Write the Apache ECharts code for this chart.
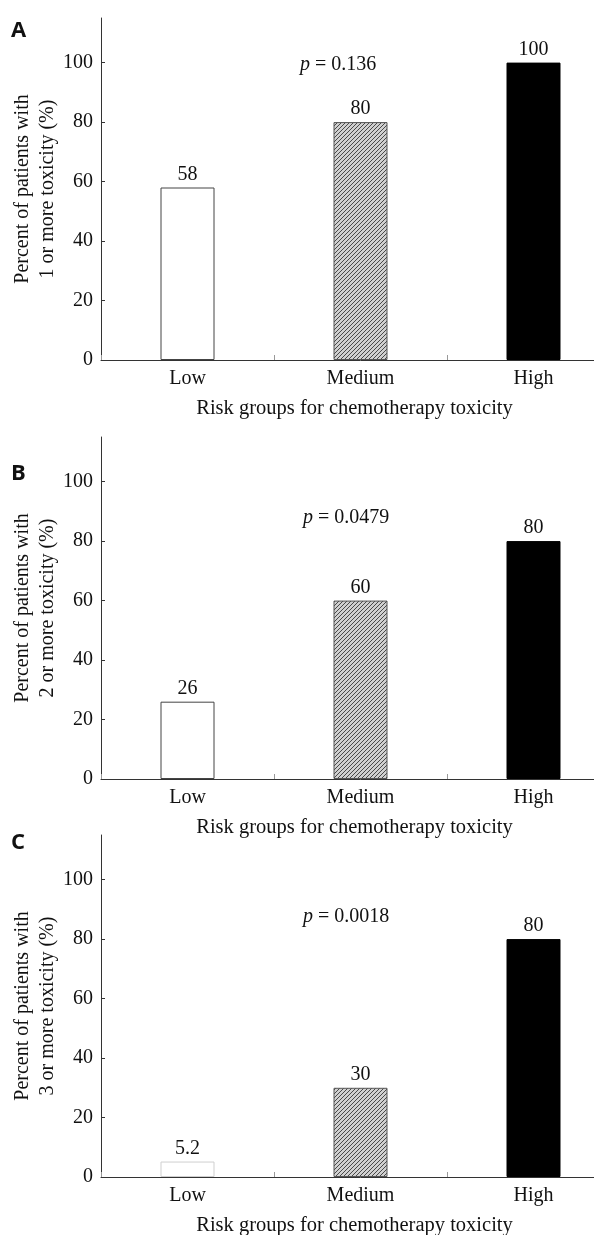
<!DOCTYPE html>
<html>
<head>
<meta charset="utf-8">
<script src="https://cdn.jsdelivr.net/npm/echarts@6/dist/echarts.min.js"></script>
<style>
  html, body { margin: 0; padding: 0; background: #fff; overflow: hidden; }
  #chart { width: 620px; height: 1235px; }
</style>
</head>
<body>
<div id="chart"></div>
<script>
// data
var categories = ["Low", "Medium", "High"];
var pctOneOrMore = [58, 80, 100];
var pctTwoOrMore = [26, 60, 80];
var pctThreeOrMore = [5.2, 30, 80];
var pValues = ["0.136", "0.0479", "0.0018"];
var panelLetters = ["A", "B", "C"];
var yNames = [
  "Percent of patients with\n1 or more toxicity (%)",
  "Percent of patients with\n2 or more toxicity (%)",
  "Percent of patients with\n3 or more toxicity (%)"
];
var xName = "Risk groups for chemotherapy toxicity";

var serif = '"Liberation Serif", "Times New Roman", serif';
var panelData = [pctOneOrMore, pctTwoOrMore, pctThreeOrMore];
var gridTops = [18, 437, 835];
var pTextPos = [[300, 66], [303, 519], [303, 918]];
var letterPos = [[11, 31], [11, 474], [11, 843]];
var lowBorder = ["#444", "#444", "#cfcfcf"];

// hatched fill for the medium bar
function hatch() {
  var c = document.createElement("canvas");
  c.width = 4;
  c.height = 4;
  var ctx = c.getContext("2d");
  ctx.fillStyle = "#d0d0d0";
  ctx.fillRect(0, 0, 4, 4);
  ctx.strokeStyle = "#3a3a3a";
  ctx.lineWidth = 0.9;
  ctx.beginPath();
  ctx.moveTo(0, 4); ctx.lineTo(4, 0);
  ctx.moveTo(-1, 1); ctx.lineTo(1, -1);
  ctx.moveTo(3, 5); ctx.lineTo(5, 3);
  ctx.stroke();
  return c;
}
var hatchImg = hatch();

var chart = echarts.init(document.getElementById("chart"));

var grids = [], xAxes = [], yAxes = [], series = [], graphics = [];

panelData.forEach(function (vals, i) {
  grids.push({
    left: 101,
    width: 519,
    top: gridTops[i],
    height: 342,
    outerBoundsMode: "none"
  });
  xAxes.push({
    type: "category",
    gridIndex: i,
    data: categories,
    name: xName,
    nameLocation: "middle",
    nameGap: 38,
    nameTextStyle: { fontFamily: serif, fontSize: 20.5, color: "#111", padding: [0, 12, 0, 0] },
    axisLine: { lineStyle: { color: "#333", width: 1 } },
    axisTick: { show: true, inside: true, length: 5, lineStyle: { color: "#999" } },
    axisLabel: { fontFamily: serif, fontSize: 20, color: "#111", margin: 9 }
  });
  yAxes.push({
    type: "value",
    gridIndex: i,
    min: 0,
    max: 115,
    interval: 20,
    name: yNames[i],
    nameLocation: "middle",
    nameGap: 41,
    nameMoveOverlap: false,
    nameTextStyle: { fontFamily: serif, fontSize: 20, color: "#111", lineHeight: 25 },
    splitLine: { show: false },
    axisLine: { show: true, lineStyle: { color: "#333", width: 1 } },
    axisTick: { show: true, inside: true, length: 4, lineStyle: { color: "#333" } },
    axisLabel: { fontFamily: serif, fontSize: 20, color: "#111", margin: 8, showMaxLabel: false }
  });
  var fills = ["#fff", { image: hatchImg, repeat: "repeat" }, "#000"];
  var borders = [lowBorder[i], "#555", "#000"];
  series.push({
    type: "bar",
    xAxisIndex: i,
    yAxisIndex: i,
    barWidth: 54,
    animation: false,
    data: vals.map(function (v, k) {
      return {
        value: v,
        itemStyle: { color: fills[k], borderColor: borders[k], borderWidth: 1 }
      };
    }),
    label: {
      show: true,
      position: "top",
      distance: 3,
      fontFamily: serif,
      fontSize: 20,
      color: "#111"
    }
  });
  graphics.push({
    type: "text",
    left: letterPos[i][0],
    top: letterPos[i][1] - 11,
    style: { text: panelLetters[i], font: 'bold 22px "Open Sans", sans-serif', fill: "#111" }
  });
  graphics.push({
    type: "text",
    left: pTextPos[i][0],
    top: pTextPos[i][1] - 11,
    style: {
      text: "{i|p} = " + pValues[i],
      font: "20px " + serif,
      fill: "#111",
      rich: { i: { fontFamily: serif, fontSize: 20, fontStyle: "italic", fill: "#111" } }
    }
  });
});

chart.setOption({
  animation: false,
  grid: grids,
  xAxis: xAxes,
  yAxis: yAxes,
  series: series,
  graphic: graphics
});
</script>
</body>
</html>
